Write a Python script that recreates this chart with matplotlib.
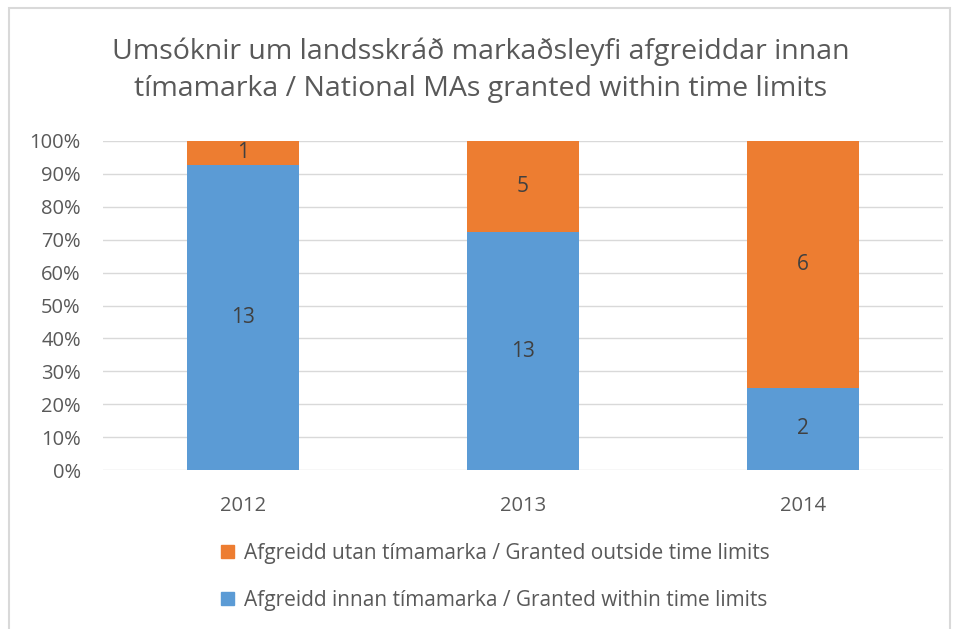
import matplotlib.pyplot as plt
import matplotlib.patches as mpatches
import numpy as np

years = ["2012", "2013", "2014"]
within = np.array([13, 13, 2])
outside = np.array([1, 5, 6])
lbl_within = "Afgreidd innan tímamarka / Granted within time limits"
lbl_outside = "Afgreidd utan tímamarka / Granted outside time limits"
title = "Umsóknir um landsskráð markaðsleyfi afgreiddar innan\ntímamarka / National MAs granted within time limits"

plt.rcParams["font.family"] = ["Open Sans", "DejaVu Sans"]
grey = "#595959"
blue = "#5B9BD5"
orange = "#ED7D31"

total = within + outside
p_in = within / total * 100
p_out = outside / total * 100

fig = plt.figure(figsize=(9.62, 6.29), dpi=100)
ax = fig.add_axes([103 / 962, 1 - 470 / 629, 840 / 962, 329 / 629])

x = np.arange(len(years))
ax.bar(x, p_in, width=0.4, color=blue, zorder=3, label=lbl_within)
ax.bar(x, p_out, width=0.4, bottom=p_in, color=orange, zorder=3, label=lbl_outside)

for i in range(len(years)):
    ax.text(x[i], p_in[i] / 2, str(within[i]), ha="center", va="center", fontsize=15, color="#404040", zorder=4)
    ax.text(x[i], p_in[i] + p_out[i] / 2, str(outside[i]), ha="center", va="center", fontsize=15, color="#404040", zorder=4)

ax.set_xlim(-0.5, 2.5)
ax.set_ylim(0, 100)
ax.set_yticks(np.arange(0, 101, 10))
ax.set_yticklabels([f"{v}%" for v in range(0, 101, 10)])
ax.set_xticks(x)
ax.set_xticklabels(years)
ax.grid(axis="y", color="#d9d9d9", linewidth=1, zorder=0)
for s in ax.spines.values():
    s.set_visible(False)
ax.tick_params(length=0, labelsize=14.5, colors=grey)
ax.tick_params(axis="y", pad=16)
ax.tick_params(axis="x", pad=19)

fig.text(0.5, 1 - 70 / 629, title, ha="center", va="center", fontsize=20.5, color=grey, linespacing=1.45)

h_out = mpatches.Patch(color=orange, label=lbl_outside)
h_in = mpatches.Patch(color=blue, label=lbl_within)
fig.legend(handles=[h_out, h_in], loc="center", bbox_to_anchor=(0.515, 1 - 577 / 629), frameon=False,
           fontsize=15, labelcolor=grey, handlelength=0.6, handleheight=0.6, handletextpad=0.5, labelspacing=1.25)

fig.patches.append(mpatches.Rectangle((9 / 962, -0.01), 941 / 962, 1 - 8 / 629 + 0.01, transform=fig.transFigure,
                                      fill=False, edgecolor="#d9d9d9", linewidth=1.5))

plt.savefig("out.png", dpi=100)
